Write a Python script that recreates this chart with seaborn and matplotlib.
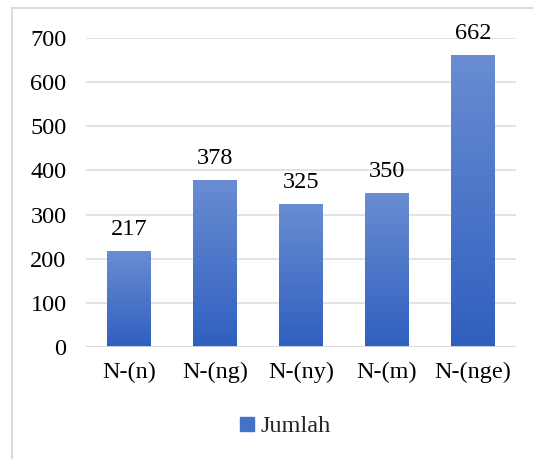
import numpy as np
import pandas as pd
import matplotlib
matplotlib.use("Agg")
import matplotlib.pyplot as plt
import seaborn as sns
from matplotlib.colors import LinearSegmentedColormap
from matplotlib.lines import Line2D

categories = ["N-(n)", "N-(ng)", "N-(ny)", "N-(m)", "N-(nge)"]
jumlah = [217, 378, 325, 350, 662]
yticks = [0, 100, 200, 300, 400, 500, 600, 700]

sns.set_theme(style="white")
plt.rcParams["font.family"] = ["Liberation Serif", "DejaVu Serif"]

FS = 17.5

df = pd.DataFrame({"kategori": categories, "Jumlah": jumlah})

fig = plt.figure(figsize=(5.33, 4.59), dpi=100)
ax = fig.add_axes([86 / 533, 1 - 347 / 459, 430 / 533, 309 / 459])

sns.barplot(data=df, x="kategori", y="Jumlah", color="#4472C4",
            width=0.51, ax=ax, zorder=3)

ax.set_ylim(0, 700)
ax.set_xlim(-0.5, len(categories) - 0.5)
ax.set_yticks(yticks)
ax.set_yticklabels([str(t) for t in yticks])
ax.grid(axis="y", color="#DDE1E6", linewidth=1.3, zorder=0)
ax.grid(axis="x", visible=False)
for s in ax.spines.values():
    s.set_visible(False)
ax.axhline(0, color="#D5D9DE", linewidth=1.3, zorder=4)
ax.set_xlabel("")
ax.set_ylabel("")
ax.tick_params(axis="both", length=0, labelsize=FS, colors="black")
ax.tick_params(axis="y", pad=14)
ax.tick_params(axis="x", pad=11)

# vertical gradient fill inside each bar
grad = LinearSegmentedColormap.from_list("bar", ["#2F5FBF", "#6A8DD2"])
gimg = np.linspace(0, 1, 256).reshape(-1, 1)
for patch, val in zip(ax.patches, jumlah):
    x0 = patch.get_x()
    w = patch.get_width()
    patch.set_facecolor("none")
    patch.set_edgecolor("none")
    im = ax.imshow(gimg, cmap=grad, origin="lower", aspect="auto",
                   extent=(x0, x0 + w, 0, val), zorder=3,
                   interpolation="bilinear")
    im.set_clip_path(patch)
    ax.annotate(str(val), xy=(x0 + w / 2, val), xytext=(0, 11.5),
                textcoords="offset points", ha="center", va="baseline",
                fontsize=FS, color="black", zorder=5, annotation_clip=False)

ax.set_xlim(-0.5, len(categories) - 0.5)
ax.set_ylim(0, 700)

handle = Line2D([], [], marker="s", linestyle="none", markersize=9.5,
                markerfacecolor="#4472C4", markeredgecolor="#4472C4")
fig.legend([handle], ["Jumlah"], loc="center", bbox_to_anchor=(283 / 533, 1 - 426 / 459),
           frameon=False, fontsize=FS, handletextpad=0.05, handlelength=1.0)

# outer frame, left and top edges
fig.add_artist(Line2D([12 / 533, 12 / 533], [0, 1 - 8 / 459],
                      transform=fig.transFigure, color="#D9DCE0", linewidth=1.5))
fig.add_artist(Line2D([12 / 533, 1], [1 - 8 / 459, 1 - 8 / 459],
                      transform=fig.transFigure, color="#D9DCE0", linewidth=1.5))

fig.savefig("out.png", dpi=100, facecolor="white")
